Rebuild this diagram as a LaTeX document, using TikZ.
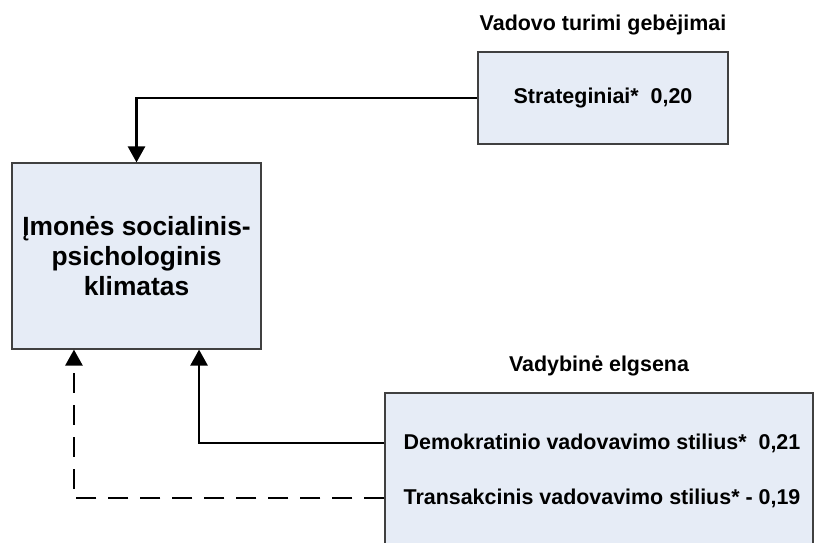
\documentclass[tikz,border=0pt]{standalone}
\usepackage{fontspec}
\setmainfont{Liberation Sans}
\usetikzlibrary{arrows.meta,calc}

\definecolor{boxfill}{RGB}{230,236,246}

\begin{document}
\begin{tikzpicture}[x = 0.02cm, y = -0.02cm, line width = 1.5pt,
                        box/.style = {draw = black!75, line width = 0.7pt, fill = boxfill, inner sep = 0pt,
                                      font = \bfseries\fontsize{12.2}{14}\selectfont},
                        txt/.style = {inner sep = 0pt, font = \bfseries\fontsize{12.2}{14}\selectfont},
                        arrow/.style = {-{Triangle[width = 0.34cm, length = 0.32cm]}},
                        dashline/.style = {dash pattern = on 0.4cm off 0.24cm}]
      \useasboundingbox (0, 0) rectangle (814, 543);
      \clip (0, 0) rectangle (814, 543);

      \node [box, align = center, minimum width = 4.98cm, minimum height = 3.72cm,
             font = \bfseries\fontsize{15}{17}\selectfont] (klimatas) at (136.5, 256)
            {Įmonės socialinis-\\psichologinis\\klimatas};

      \node [box, minimum width = 5cm, minimum height = 1.84cm,
             label = {[txt, label distance = 0.3cm]above:Vadovo turimi gebėjimai}] (strat) at (603, 98)
            {Strateginiai*~~0,20};

      \node [box, minimum width = 8.56cm, minimum height = 3.34cm,
             label = {[txt, label distance = 0.3cm]above:Vadybinė elgsena}] (elgsena) at (599, 476.5) {};
      \node [txt] (demo) at (602, 443) {Demokratinio vadovavimo stilius*~ 0,21};
      \node [txt] (trans) at (602, 498) {Transakcinis vadovavimo stilius* - 0,19};

      \draw [arrow] (strat.west) -| (klimatas.north);
      \draw [arrow] (elgsena.west |- demo) -| ($(klimatas.south west)!0.75!(klimatas.south east)$);
      \draw [arrow, dashline] (elgsena.west |- trans) -| ($(klimatas.south west)!0.25!(klimatas.south east)$);
\end{tikzpicture}
\end{document}
